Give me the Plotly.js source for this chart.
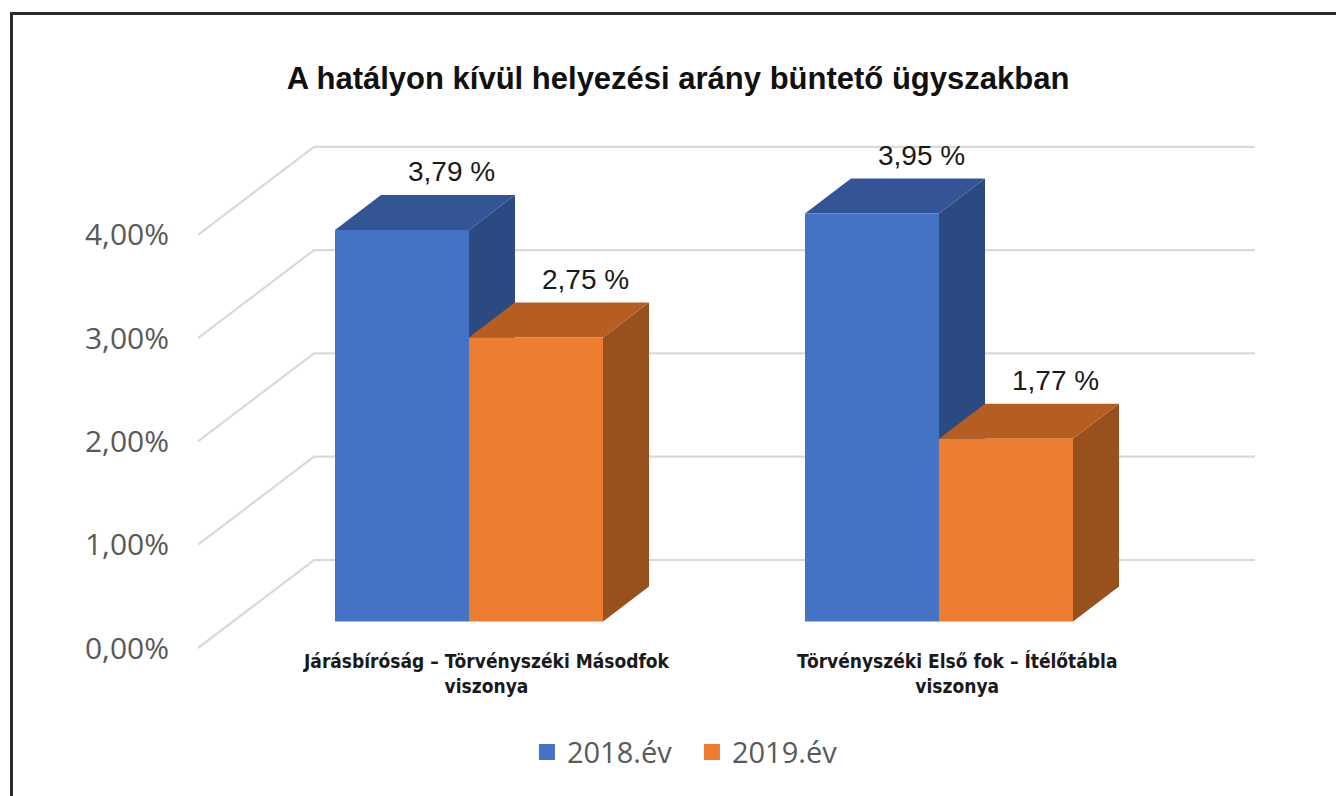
<!DOCTYPE html>
<html>
<head>
<meta charset="utf-8">
<script src="https://cdn.plot.ly/plotly-3.0.1.min.js"></script>
<style>
  html, body { margin: 0; padding: 0; background: #fff; }
  #wrap { position: relative; width: 1336px; height: 796px; overflow: hidden; }
  #chart { width: 1336px; height: 796px; }
  #frame { position: absolute; left: 10px; top: 12px; width: 1340px; height: 800px;
           border-top: 3px solid #2a2a2a; border-left: 3px solid #2a2a2a; pointer-events: none; }
</style>
</head>
<body>
<div id="wrap"><div id="chart"></div><div id="frame"></div></div>
<script>
// ---- data ----
const categories = ["Járásbíróság – Törvényszéki Másodfok<br>viszonya",
                    "Törvényszéki Első fok – Ítélőtábla<br>viszonya"];
const seriesNames = ["2018.év", "2019.év"];
const values2018 = [3.79, 3.95];
const values2019 = [2.75, 1.77];
const tickVals = [0, 1, 2, 3, 4];
const tickText = ["0,00%", "1,00%", "2,00%", "3,00%", "4,00%"];
const titleText = "A hatályon kívül helyezési arány büntető ügyszakban";

// ---- styling / geometry (not data) ----
const frontColors = ["#4472C4", "#ED7D31"];
const topColors   = ["#335595", "#B65E22"];
const sideColors  = ["#2B4A81", "#98501C"];
const barW = 0.2851;          // width of a bar in category units
const depthX = 0.0979;        // bar depth, horizontal part (x units)
const depthY = 0.3388;        // bar depth, vertical part (y units)
const floorOff = 0.2565;      // bars stand this far above the front floor
const wallX0 = -0.5766, wallDX = 0.2468, wallDY = 0.8519, wallX1 = 1.6723;

const xIdx = categories.map((c, i) => i);
const series = [values2018, values2019];
const fmt = v => v.toFixed(2).replace('.', ',') + ' %';

const traces = series.map((vals, s) => ({
  type: 'bar',
  name: seriesNames[s],
  x: xIdx,
  y: vals,
  base: vals.map(() => floorOff),
  width: barW,
  offset: s === 0 ? -barW : 0,
  marker: { color: frontColors[s], line: { width: 0 } },
  showlegend: false,
  hoverinfo: 'skip'
}));
// legend entries (square swatches like the original)
seriesNames.forEach((n, s) => {
  traces.push({
    type: 'scatter', mode: 'markers', name: n, x: [null], y: [null],
    marker: { symbol: 'square', size: 16, color: frontColors[s] },
    showlegend: true, hoverinfo: 'skip'
  });
});

const shapes = [];
// walls / gridlines
tickVals.forEach(v => {
  shapes.push({
    type: 'path', xref: 'x', yref: 'y', layer: 'below',
    path: `M ${wallX0} ${v} L ${wallX0 + wallDX} ${v + wallDY} L ${wallX1} ${v + wallDY}`,
    line: { color: '#D9D9D9', width: 2.2 }
  });
});
// 3D faces
xIdx.forEach(i => {
  series.forEach((vals, s) => {
    const v = vals[i];
    const x0 = i + (s === 0 ? -barW : 0), x1 = x0 + barW;
    const y0 = floorOff, y1 = floorOff + v;
    shapes.push({
      type: 'path', xref: 'x', yref: 'y', layer: 'between',
      path: `M ${x1} ${y0} L ${x1 + depthX} ${y0 + depthY} L ${x1 + depthX} ${y1 + depthY} L ${x1} ${y1} Z`,
      fillcolor: sideColors[s], line: { width: 0 }
    });
    shapes.push({
      type: 'path', xref: 'x', yref: 'y', layer: 'between',
      path: `M ${x0} ${y1} L ${x0 + depthX} ${y1 + depthY} L ${x1 + depthX} ${y1 + depthY} L ${x1} ${y1} Z`,
      fillcolor: topColors[s], line: { width: 0 }
    });
  });
});

const annotations = [];
xIdx.forEach(i => {
  series.forEach((vals, s) => {
    const v = vals[i];
    const xc = i + (s === 0 ? -barW / 2 : barW / 2) + depthX + 0.008;
    annotations.push({
      x: xc, y: floorOff + v + depthY + 0.225, xref: 'x', yref: 'y',
      text: fmt(v), showarrow: false, yanchor: 'middle', xanchor: 'center',
      font: { family: 'Liberation Sans, Arial, sans-serif', size: 28, color: '#1a1a1a' }
    });
  });
  annotations.push({
    x: i + 0.038, y: -0.0056, xref: 'x', yref: 'paper',
    text: '<b>' + categories[i] + '</b>', showarrow: false,
    xanchor: 'center', yanchor: 'middle', align: 'center',
    font: { family: 'Liberation Sans Narrow, Arial Narrow, DejaVu Sans Condensed, sans-serif', size: 19, color: '#1a1a1a' }
  });
});

const layout = {
  width: 1336, height: 796,
  margin: { l: 198, r: 71, t: 130, b: 126, pad: 0 },
  paper_bgcolor: '#ffffff', plot_bgcolor: 'rgba(0,0,0,0)',
  title: {
    text: '<b>' + titleText + '</b>',
    x: 0.5075, xanchor: 'center', y: 0.902, yanchor: 'middle',
    font: { family: 'Liberation Sans, Arial, sans-serif', size: 31, color: '#111' }
  },
  barmode: 'overlay',
  xaxis: { range: [-0.5766, 1.69362], showgrid: false, zeroline: false, showline: false,
           showticklabels: false, fixedrange: true },
  yaxis: { range: [-0.21297, 5.01452], showgrid: false, zeroline: false, showline: false,
           tickvals: tickVals, ticktext: tickText, ticks: '', ticklabelstandoff: 28,
           tickfont: { family: 'Open Sans, sans-serif', size: 30, color: '#595959' }, fixedrange: true },
  showlegend: true,
  legend: {
    orientation: 'h', x: 0.3083, xanchor: 'left', y: -0.152, yanchor: 'middle',
    font: { family: 'Open Sans, sans-serif', size: 29, color: '#595959' },
    itemclick: false, itemdoubleclick: false, traceorder: 'normal', itemwidth: 30,
    entrywidth: 120, entrywidthmode: 'pixels'
  },
  shapes: shapes,
  annotations: annotations
};

Plotly.newPlot('chart', traces, layout, { displayModeBar: false, staticPlot: true });
</script>
</body>
</html>
